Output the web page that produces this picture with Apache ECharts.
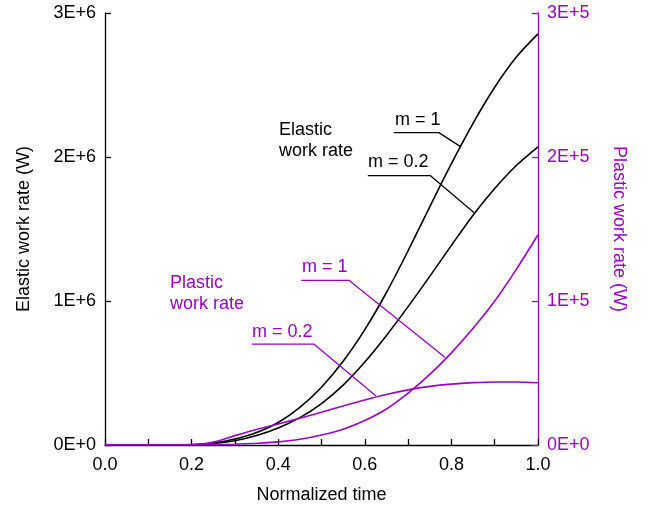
<!DOCTYPE html>
<html>
<head>
<meta charset="utf-8">
<script src="https://cdn.jsdelivr.net/npm/echarts@6/dist/echarts.min.js"></script>
<style>html,body{margin:0;padding:0;background:#fff}#c{width:648px;height:509px}</style>
</head>
<body>
<div id="c"></div>
<script>
const times = [0, 0.1, 0.2, 0.25, 0.3, 0.35, 0.4, 0.45, 0.5, 0.55, 0.6, 0.65, 0.7, 0.75, 0.8, 0.85, 0.9, 0.95, 1.0];
const elasticM1  = [0, 0, 3e3, 13e3, 41e3, 86e3, 156e3, 261e3, 401e3, 581e3, 801e3, 1.059e6, 1.349e6, 1.654e6, 1.954e6, 2.234e6, 2.484e6, 2.694e6, 2.855e6];
const elasticM02 = [0, 0, 2e3, 10e3, 30e3, 66e3, 118e3, 190e3, 288e3, 416e3, 576e3, 761e3, 961e3, 1.171e6, 1.386e6, 1.596e6, 1.781e6, 1.941e6, 2.071e6];
const plasticM1  = [0, 0, 0, 100, 500, 1200, 2200, 4000, 7000, 11000, 17000, 25000, 36000, 49000, 64000, 81000, 100000, 122000, 146000];
const plasticM02 = [0, 0, 0, 2000, 6500, 10800, 14600, 18600, 22800, 27100, 31300, 35100, 38300, 40700, 42300, 43300, 43800, 43800, 43200];
const xTicks = [0, 0.2, 0.4, 0.6, 0.8, 1.0];
const leftTicks = ['0E+0', '1E+6', '2E+6', '3E+6'];
const rightTicks = ['0E+0', '1E+5', '2E+5', '3E+5'];
// annotation leader lines (data coordinates)
const leaderElasticM1  = [[0.667, 2.169e6], [0.771, 2.169e6], [0.822, 2.07e6]];
const leaderElasticM02 = [[0.607, 1.871e6], [0.751, 1.871e6], [0.852, 1.614e6]];
const leaderPlasticM1  = [[0.453, 1.143e5], [0.564, 1.143e5], [0.785, 0.61e5]];
const leaderPlasticM02 = [[0.339, 0.70e5], [0.483, 0.70e5], [0.626, 0.34e5]];

const PURPLE = '#9900cc';
const FONT = 'Liberation Sans, Arial, sans-serif';
const FS = 18;
const pairs = (ys) => times.map((t, i) => [t, ys[i]]);

const chart = echarts.init(document.getElementById('c'), null, {renderer: 'canvas'});
const curve = (name, data, yIdx, color) => ({
  name, type: 'line', data: pairs(data), yAxisIndex: yIdx, showSymbol: false, symbol: 'none',
  smooth: 0.3, lineStyle: {color, width: 1.6}, z: 3, silent: true
});
const leader = (data, yIdx, color) => ({
  type: 'line', data, yAxisIndex: yIdx, showSymbol: false, symbol: 'none',
  lineStyle: {color, width: 1.3}, z: 4, silent: true
});
const txt = (left, top, text, color) => ({
  type: 'text', left, top, style: {text, fill: color, font: FS + 'px ' + FONT, lineHeight: 21}
});

chart.setOption({
  animation: false,
  grid: {left: 105, right: 110, top: 13, bottom: 63},
  xAxis: {
    type: 'value', min: 0, max: 1, interval: 0.1,
    name: 'Normalized time', nameLocation: 'middle', nameGap: 41,
    nameTextStyle: {color: '#000', fontSize: FS, fontFamily: FONT},
    axisLine: {show: true, lineStyle: {color: '#000', width: 1.3}},
    axisTick: {show: true, inside: true, length: 6, lineStyle: {color: '#000', width: 1.3}},
    axisLabel: {color: '#000', fontSize: FS, fontFamily: FONT, margin: 11,
      formatter: v => { const f = xTicks.find(t => Math.abs(t - v) < 1e-6); return f === undefined ? '' : f.toFixed(1); }},
    splitLine: {show: false}
  },
  yAxis: [{
    type: 'value', min: 0, max: 3e6, interval: 1e6, position: 'left',
    name: 'Elastic work rate (W)', nameLocation: 'middle', nameGap: 72, nameRotate: 90,
    nameTextStyle: {color: '#000', fontSize: FS, fontFamily: FONT},
    axisLine: {show: true, lineStyle: {color: '#000', width: 1.3}},
    axisTick: {show: true, inside: true, length: 6, lineStyle: {color: '#000', width: 1.3}},
    axisLabel: {color: '#000', fontSize: FS, fontFamily: FONT, margin: 9,
      formatter: v => leftTicks[Math.round(v / 1e6)]},
    splitLine: {show: false}
  }, {
    type: 'value', min: 0, max: 3e5, interval: 1e5, position: 'right',
    name: 'Plastic work rate (W)', nameLocation: 'middle', nameGap: 72, nameRotate: -90,
    nameTextStyle: {color: PURPLE, fontSize: FS, fontFamily: FONT},
    axisLine: {show: true, lineStyle: {color: PURPLE, width: 1.3}},
    axisTick: {show: true, inside: true, length: 6, lineStyle: {color: PURPLE, width: 1.3}},
    axisLabel: {color: PURPLE, fontSize: FS, fontFamily: FONT, margin: 9,
      formatter: v => rightTicks[Math.round(v / 1e5)]},
    splitLine: {show: false}
  }],
  series: [
    curve('Elastic m=1', elasticM1, 0, '#000'),
    curve('Elastic m=0.2', elasticM02, 0, '#000'),
    curve('Plastic m=1', plasticM1, 1, PURPLE),
    curve('Plastic m=0.2', plasticM02, 1, PURPLE),
    leader(leaderElasticM1, 0, '#000'),
    leader(leaderElasticM02, 0, '#000'),
    leader(leaderPlasticM1, 1, PURPLE),
    leader(leaderPlasticM02, 1, PURPLE)
  ],
  graphic: [
    txt(279, 120, 'Elastic\nwork rate', '#000'),
    txt(395, 110, 'm = 1', '#000'),
    txt(368, 152, 'm = 0.2', '#000'),
    txt(170, 273, 'Plastic\nwork rate', PURPLE),
    txt(302, 257, 'm = 1', PURPLE),
    txt(252, 322, 'm = 0.2', PURPLE)
  ]
});
</script>
</body>
</html>
